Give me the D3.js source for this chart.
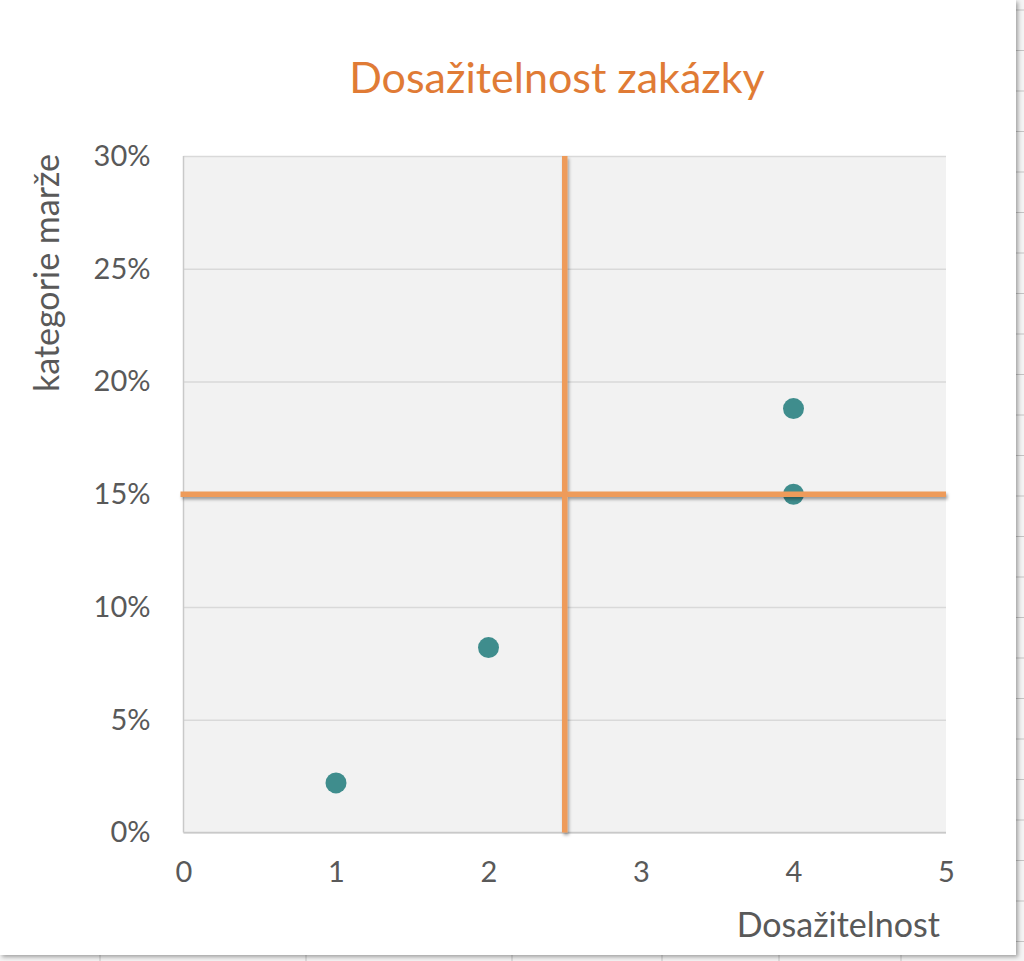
<!DOCTYPE html>
<html>
<head>
<meta charset="utf-8">
<script src="https://cdnjs.cloudflare.com/ajax/libs/d3/7.8.5/d3.min.js"></script>
<style>
  html, body { margin: 0; padding: 0; background: #f7f7f7; }
  svg { display: block; }
  text { font-family: Lato, "Open Sans", sans-serif; }
</style>
</head>
<body>
<svg id="chart" width="1024" height="961"></svg>
<script>
// chart data
var titleText = "Dosažitelnost zakázky";
var xTitle = "Dosažitelnost";
var yTitle = "kategorie marže";
var pointX = [1, 2, 4, 4];
var pointY = [0.022, 0.082, 0.188, 0.15];
var xTicks = [0, 1, 2, 3, 4, 5];
var yTicks = [0, 0.05, 0.10, 0.15, 0.20, 0.25, 0.30];
var splitX = 2.5;   // vertical quadrant line
var splitY = 0.15;  // horizontal quadrant line

var svg = d3.select("#chart");
var W = 1024, H = 961;
var frameW = 1016, frameH = 955;

// sheet behind the chart (cell borders)
var sheet = svg.append("g");
sheet.append("rect").attr("width", W).attr("height", H).attr("fill", "#f4f4f4");
sheet.selectAll("line.row")
  .data(d3.range(10, H, 40.5))
  .enter().append("line")
  .attr("x1", frameW).attr("x2", W)
  .attr("y1", function (d) { return d; }).attr("y2", function (d) { return d; })
  .attr("stroke", "#c4c4c4");
sheet.selectAll("line.col")
  .data([100, 306, 512, 662, 779, 901])
  .enter().append("line")
  .attr("x1", function (d) { return d; }).attr("x2", function (d) { return d; })
  .attr("y1", frameH).attr("y2", H)
  .attr("stroke", "#c4c4c4");

var defs = svg.append("defs");
var frameShadow = defs.append("filter").attr("id", "frameShadow")
  .attr("x", "-5%").attr("y", "-5%").attr("width", "110%").attr("height", "110%");
frameShadow.append("feDropShadow")
  .attr("dx", 2).attr("dy", 2).attr("stdDeviation", 2)
  .attr("flood-color", "#000").attr("flood-opacity", 0.35);

var lineShadow = defs.append("filter").attr("id", "lineShadow")
  .attr("x", "-5%").attr("y", "-5%").attr("width", "110%").attr("height", "110%");
lineShadow.append("feDropShadow")
  .attr("dx", 1.5).attr("dy", 2.5).attr("stdDeviation", 1.6)
  .attr("flood-color", "#000").attr("flood-opacity", 0.35);

svg.append("rect")
  .attr("width", frameW).attr("height", frameH)
  .attr("fill", "#fff")
  .attr("filter", "url(#frameShadow)");

// plot area
var plotL = 183.5, plotR = 946, plotT = 156, plotB = 832.5;

var x = d3.scaleLinear().domain([0, 5]).range([plotL, plotR]);
var y = d3.scaleLinear().domain([0, 0.30]).range([plotB, plotT]);

svg.append("rect")
  .attr("x", plotL).attr("y", plotT)
  .attr("width", plotR - plotL).attr("height", plotB - plotT)
  .attr("fill", "#f2f2f2");

// gridlines
var yGrid = d3.axisLeft(y).tickValues(yTicks).tickSize(-(plotR - plotL)).tickFormat("");
svg.append("g")
  .attr("transform", "translate(" + plotL + ",0)")
  .call(yGrid)
  .call(function (g) {
    g.select(".domain").remove();
    g.selectAll("line").attr("stroke", "#d9d9d9").attr("stroke-width", 1.5);
  });

// axis lines
svg.append("line")
  .attr("x1", plotL).attr("x2", plotL).attr("y1", plotT).attr("y2", plotB)
  .attr("stroke", "#c9c9c9").attr("stroke-width", 1.5);
svg.append("line")
  .attr("x1", plotL).attr("x2", plotR).attr("y1", plotB).attr("y2", plotB)
  .attr("stroke", "#c9c9c9").attr("stroke-width", 1.5);

// tick labels
var yAxis = d3.axisLeft(y).tickValues(yTicks).tickSize(0).tickPadding(33)
  .tickFormat(d3.format(".0%"));
svg.append("g")
  .attr("transform", "translate(" + plotL + ",0)")
  .call(yAxis)
  .call(function (g) {
    g.select(".domain").remove();
    g.selectAll("text")
      .attr("font-size", 29).attr("fill", "#595959")
      .attr("font-family", "Lato, 'Open Sans', sans-serif");
  });

var xAxis = d3.axisBottom(x).tickValues(xTicks).tickSize(0).tickPadding(29)
  .tickFormat(d3.format("d"));
svg.append("g")
  .attr("transform", "translate(0," + plotB + ")")
  .call(xAxis)
  .call(function (g) {
    g.select(".domain").remove();
    g.selectAll("text")
      .attr("font-size", 29).attr("fill", "#595959")
      .attr("font-family", "Lato, 'Open Sans', sans-serif");
  });

// points (drawn under the quadrant lines)
var pts = pointX.map(function (v, i) { return { x: v, y: pointY[i] }; });
svg.append("g").selectAll("circle")
  .data(pts)
  .enter().append("circle")
  .attr("cx", function (d) { return x(d.x); })
  .attr("cy", function (d) { return y(d.y); })
  .attr("r", 10.5)
  .attr("fill", "#3f8d8d");

// quadrant lines
var quad = svg.append("g").attr("filter", "url(#lineShadow)");
quad.append("line")
  .attr("x1", x(splitX)).attr("x2", x(splitX))
  .attr("y1", y(0.30)).attr("y2", y(0))
  .attr("stroke", "#ee9b5a").attr("stroke-width", 5.5);
quad.append("line")
  .attr("x1", plotL - 3).attr("x2", plotR)
  .attr("y1", y(splitY)).attr("y2", y(splitY))
  .attr("stroke", "#ee9b5a").attr("stroke-width", 5.5);

// titles
svg.append("text")
  .attr("x", 557).attr("y", 93)
  .attr("text-anchor", "middle")
  .attr("font-size", 43)
  .attr("fill", "#e07b35")
  .text(titleText);

svg.append("text")
  .attr("x", 940).attr("y", 937)
  .attr("text-anchor", "end")
  .attr("font-size", 34)
  .attr("fill", "#595959")
  .text(xTitle);

svg.append("text")
  .attr("transform", "translate(59,273) rotate(-90)")
  .attr("text-anchor", "middle")
  .attr("font-size", 34)
  .attr("fill", "#595959")
  .text(yTitle);
</script>
</body>
</html>
